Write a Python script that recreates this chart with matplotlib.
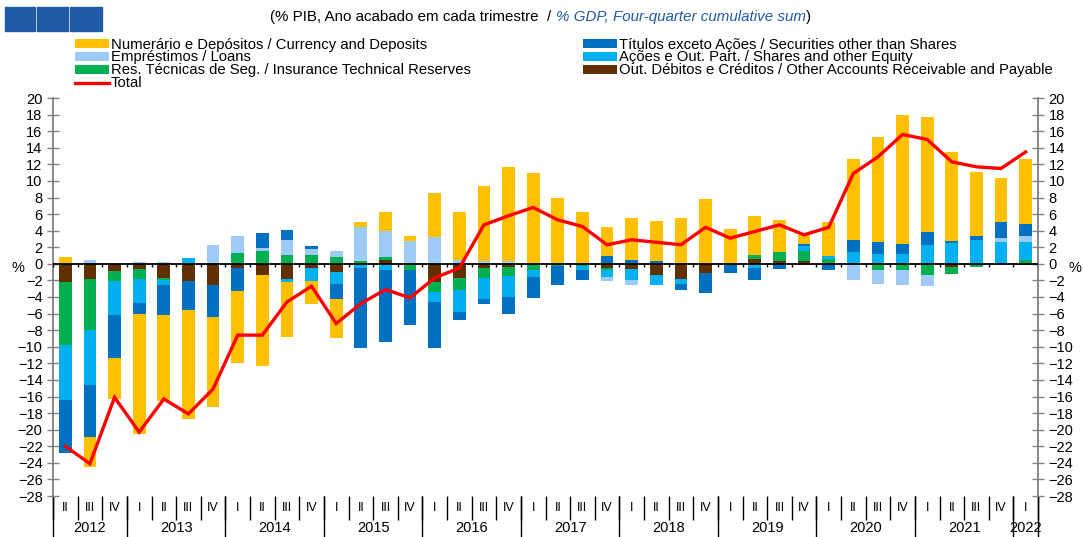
import numpy as np
import matplotlib
matplotlib.use('Agg')
import matplotlib.pyplot as plt
from matplotlib.patches import Rectangle, Patch
from matplotlib.lines import Line2D

plt.rcParams['font.family'] = ['Liberation Sans', 'DejaVu Sans']

# ---------------- data ----------------
quarters = ['II', 'III', 'IV'] + ['I', 'II', 'III', 'IV'] * 9 + ['I']
years = ['2012', '2013', '2014', '2015', '2016', '2017', '2018', '2019', '2020', '2021', '2022']
year_counts = [3, 4, 4, 4, 4, 4, 4, 4, 4, 4, 1]

other_accounts = [-2.2, -1.8, -0.9, -0.6, -1.7, -2.1, -2.5, -0.5, -1.3, -1.8,
                  -0.5, -1.0, 0.0, 0.5, 0.0, -2.2, -1.7, -0.5, -0.4, 0.0,
                  0.0, 0.0, -0.5, -0.6, -1.3, -1.8, -1.1, 0.0, 0.6, 0.4,
                  0.3, 0.0, 0.0, 0.0, 0.0, 0.0, -0.4, 0.0, 0.0, -0.1]
insurance = [-7.6, -6.2, -1.2, -1.2, -0.2, 0.0, 0.1, 1.3, 1.5, 1.1,
             1.1, 0.8, 0.4, 0.3, -0.8, -1.2, -1.4, -1.2, -1.1, -0.8,
             -0.3, -0.3, -0.2, 0.0, 0.0, 0.0, 0.0, 0.0, 0.5, 1.0,
             1.2, 0.6, 0.0, -0.7, -0.8, -1.3, -0.8, -0.4, 0.0, 0.5]
shares = [-6.6, -6.6, -4.1, -2.9, -0.6, 0.7, 0.0, 0.0, 0.0, -0.4,
          -1.6, -1.4, -0.5, -0.8, 0.0, -1.2, -2.7, -2.5, -2.5, -0.8,
          0.0, -0.5, -0.9, -1.4, -1.2, -0.6, 0.0, 0.0, -0.5, 0.0,
          0.7, 0.3, 1.4, 1.2, 1.2, 2.3, 2.5, 2.9, 2.6, 2.1]
loans = [0.0, 0.5, 0.0, 0.2, 0.2, 0.0, 2.2, 2.0, 0.4, 1.8,
         0.7, 0.7, 4.1, 3.1, 2.8, 3.2, 0.5, 0.4, 0.4, 0.0,
         0.0, 0.0, -0.5, -0.5, 0.0, 0.0, 0.0, 0.0, 0.0, 0.0,
         -0.2, 0.0, -1.9, -1.7, -1.8, -1.4, 0.0, 0.0, 0.5, 0.8]
securities = [-6.4, -6.3, -5.1, -1.3, -3.7, -3.5, -3.9, -2.8, 1.8, 1.2,
              0.4, -1.9, -9.7, -8.6, -6.6, -5.6, -1.0, -0.6, -2.0, -2.5,
              -2.3, -1.1, 0.9, 0.5, 0.4, -0.7, -2.4, -1.1, -1.5, -0.6,
              0.2, -0.8, 1.5, 1.4, 1.2, 1.5, 0.3, 0.5, 2.0, 1.4]
currency = [0.8, -3.6, -5.0, -14.5, -10.3, -13.1, -10.9, -8.6, -11.0, -6.6,
            -2.8, -4.6, 0.6, 2.3, 0.5, 5.3, 5.8, 9.0, 11.3, 10.9,
            8.0, 6.3, 3.5, 5.0, 4.8, 5.5, 7.8, 4.2, 4.7, 3.9,
            1.1, 4.2, 9.8, 12.7, 15.6, 13.9, 10.7, 7.7, 5.3, 7.8]
total = [-22.0, -24.1, -16.1, -20.3, -16.3, -18.1, -15.1, -8.6, -8.6, -4.6,
         -2.7, -7.2, -4.8, -3.1, -4.1, -1.7, -0.5, 4.7, 5.8, 6.8,
         5.3, 4.5, 2.3, 2.9, 2.6, 2.3, 4.4, 3.1, 3.9, 4.7,
         3.5, 4.4, 10.9, 12.9, 15.6, 15.0, 12.3, 11.7, 11.5, 13.5]

lbl_cur = 'Numerário e Depósitos / Currency and Deposits'
lbl_loan = 'Empréstimos / Loans'
lbl_ins = 'Res. Técnicas de Seg. / Insurance Technical Reserves'
lbl_sec = 'Títulos exceto Ações / Securities other than Shares'
lbl_sha = 'Ações e Out. Part. / Shares and other Equity'
lbl_oth = 'Out. Débitos e Créditos / Other Accounts Receivable and Payable'

c_cur, c_loan, c_ins = '#FFC000', '#9DCBF5', '#00B050'
c_sec, c_sha, c_oth = '#0070C0', '#00B0F0', '#603000'

# stacking order (from zero outward)
stack = [(other_accounts, c_oth), (insurance, c_ins), (shares, c_sha),
         (loans, c_loan), (securities, c_sec), (currency, c_cur)]

W, H = 1083, 537
fig = plt.figure(figsize=(W / 100, H / 100), dpi=100)
ax = fig.add_axes([53 / W, 1 - 496 / H, (1038 - 53) / W, (496 - 98) / H])

n = len(quarters)
x = np.arange(n)
pos = np.zeros(n)
neg = np.zeros(n)
for vals, col in stack:
    v = np.array(vals, dtype=float)
    bottom = np.where(v >= 0, pos, neg)
    ax.bar(x, v, 0.52, bottom=bottom, color=col, linewidth=0, zorder=2)
    pos += np.where(v > 0, v, 0)
    neg += np.where(v < 0, v, 0)

ax.plot(x, total, color='#FF0000', lw=2.4, zorder=4, solid_joinstyle='miter')
ax.axhline(0, color='black', lw=1.3, zorder=3)
bounds = np.arange(-0.5, n, 1.0)
ax.vlines(bounds, -0.35, 0, color='black', lw=1.0, zorder=3)

ax.set_xlim(-0.5, n - 0.5)
ax.set_ylim(-28, 20)
ax.set_yticks(np.arange(-28, 21, 2))
ax.tick_params(axis='y', direction='inout', length=9, width=1, color='#808080',
               left=True, right=True, labelleft=True, labelright=True,
               labelsize=10.5, pad=3)
for s in ['top', 'bottom']:
    ax.spines[s].set_visible(False)
for s in ['left', 'right']:
    ax.spines[s].set_color('#808080')
    ax.spines[s].set_linewidth(1.3)

# quarter ticks
ax.set_xticks(bounds)
ax.set_xticklabels([''] * len(bounds))
ax.set_xticks(x, minor=True)
ax.set_xticklabels(quarters, minor=True)
ax.tick_params(axis='x', which='major', direction='out', length=17, width=1.0, color='black')
ax.tick_params(axis='x', which='minor', length=0, pad=4, labelsize=9)

# year ticks
ybounds = np.concatenate([[-0.5], -0.5 + np.cumsum(year_counts)])
ycent = (ybounds[:-1] + ybounds[1:]) / 2
sec = ax.secondary_xaxis('bottom')
sec.spines['bottom'].set_visible(False)
sec.set_xticks(ybounds)
sec.set_xticklabels([''] * len(ybounds))
sec.set_xticks(ycent, minor=True)
sec.set_xticklabels(years, minor=True)
sec.tick_params(axis='x', which='major', direction='out', length=31, width=1.0, color='black')
sec.tick_params(axis='x', which='minor', length=0, pad=18, labelsize=10.5)

# % labels
fig.text(18 / W, 1 - 268 / H, '%', fontsize=10.5, ha='center', va='center')
fig.text(1075 / W, 1 - 268 / H, '%', fontsize=10.5, ha='center', va='center')

# squares top-left
for x0, x1 in [(5, 35), (37, 68), (70, 102)]:
    fig.patches.append(Rectangle((x0 / W, 1 - 31 / H), (x1 - x0) / W, 24 / H,
                                 transform=fig.transFigure, color='#1F5BA5'))

# title with mixed styling
renderer = fig.canvas.get_renderer()
ty = 1 - 17 / H
t1 = fig.text(270 / W, ty, '(% PIB, Ano acabado em cada trimestre  / ', fontsize=10.9,
              ha='left', va='center')
bb = t1.get_window_extent(renderer)
t2 = fig.text(bb.x1 / W, ty, '% GDP, Four-quarter cumulative sum', fontsize=10.9,
              ha='left', va='center', color='#1F5BA5', style='italic')
bb2 = t2.get_window_extent(renderer)
fig.text(bb2.x1 / W, ty, ')', fontsize=10.9, ha='left', va='center')

# legends
def ph(c):
    return Patch(facecolor=c, edgecolor='none')

leg_kw = dict(loc='upper left', frameon=False, fontsize=10.7, borderpad=0,
              borderaxespad=0, handlelength=2.3, handleheight=0.54,
              handletextpad=0.12, labelspacing=-0.07)
fig.legend([ph(c_cur), ph(c_loan), ph(c_ins), Line2D([], [], color='#FF0000', lw=2.4)],
           [lbl_cur, lbl_loan, lbl_ins, 'Total'],
           bbox_to_anchor=(75 / W, 1 - 37.5 / H), **leg_kw)
fig.legend([ph(c_sec), ph(c_sha), ph(c_oth)], [lbl_sec, lbl_sha, lbl_oth],
           bbox_to_anchor=(583 / W, 1 - 37.5 / H), **leg_kw)

fig.savefig('out.png', dpi=100)
